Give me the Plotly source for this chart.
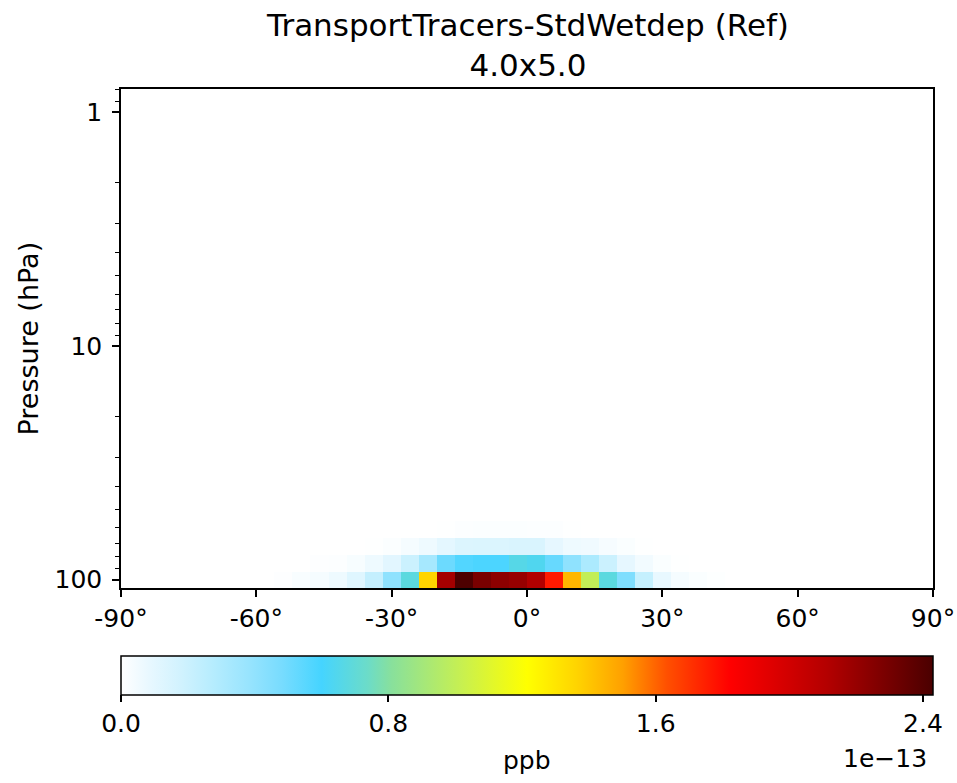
import plotly.graph_objects as go

# ---- data -------------------------------------------------------------
# latitude cell edges of the 4x5 grid (half-size polar cells)
lat_edges = [-90, -88, -84, -80, -76, -72, -68, -64, -60, -56, -52, -48, -44, -40,
             -36, -32, -28, -24, -20, -16, -12, -8, -4, 0, 4, 8, 12, 16, 20, 24,
             28, 32, 36, 40, 44, 48, 52, 56, 60, 64, 68, 72, 76, 80, 84, 88, 90]

# pressure level edges (hPa), GEOS 72-level grid, ~109 hPa up to ~0.8 hPa
pres_edges = [108.663, 92.36572, 78.51231, 66.60341, 56.38791, 47.64391, 40.17541,
              33.81001, 28.36781, 23.73041, 19.79160, 16.45710, 13.64340, 11.27690,
              9.292942, 7.619842, 6.216801, 5.046801, 4.076571, 3.276431, 2.620211,
              2.084970, 1.650790, 1.300510, 1.019440, 0.7951341]

# zonal-mean values (units of 1e-13 ppb), one list per level, 46 latitudes
level_1 = [0, 0, 0, 0, 0, 0, 0, 0, 0, 0.009, 0.026, 0.037, 0.063, 0.122, 0.225, 0.41,
           0.68, 1.36, 2.16, 2.42, 2.29, 2.23, 2.20, 2.12, 1.76, 1.44, 1.00, 0.68,
           0.46, 0.22, 0.085, 0.037, 0.018, 0.006, 0, 0, 0, 0, 0, 0, 0, 0, 0, 0, 0, 0]
level_2 = [0, 0, 0, 0, 0, 0, 0, 0, 0, 0, 0, 0.007, 0.011, 0.030, 0.063, 0.11,
           0.20, 0.33, 0.51, 0.57, 0.585, 0.585, 0.66, 0.64, 0.52, 0.41, 0.31, 0.20,
           0.094, 0.048, 0.018, 0.004, 0, 0, 0, 0, 0, 0, 0, 0, 0, 0, 0, 0, 0, 0]
level_3 = [0, 0, 0, 0, 0, 0, 0, 0, 0, 0, 0, 0, 0, 0, 0.005, 0.015,
           0.037, 0.063, 0.10, 0.134, 0.137, 0.137, 0.145, 0.145, 0.095, 0.063, 0.055, 0.033,
           0.018, 0.005, 0, 0, 0, 0, 0, 0, 0, 0, 0, 0, 0, 0, 0, 0, 0, 0]
level_4 = [0, 0, 0, 0, 0, 0, 0, 0, 0, 0, 0, 0, 0, 0, 0, 0,
           0, 0, 0.004, 0.012, 0.013, 0.013, 0.013, 0.012, 0.010, 0.004, 0, 0,
           0, 0, 0, 0, 0, 0, 0, 0, 0, 0, 0, 0, 0, 0, 0, 0, 0, 0]
upper_levels = [0] * 46  # levels above are zero

vmax = 2.43
cbar_ticks = [0.0, 0.8, 1.6, 2.4]
cbar_ticktext = ["0.0", "0.8", "1.6", "2.4"]
lat_ticks = [-90, -60, -30, 0, 30, 60, 90]
lat_ticktext = ["-90°", "-60°", "-30°", "0°", "30°", "60°", "90°"]
pres_ticks = [1, 10, 100]
pres_minor = [0.8, 0.9, 2, 3, 4, 5, 6, 7, 8, 9, 20, 30, 40, 50, 60, 70, 80, 90]

# ---- figure -----------------------------------------------------------
z = [level_1, level_2, level_3, level_4] + [upper_levels] * (len(pres_edges) - 5)

colorscale = [
    [0.000, "#ffffff"], [0.035, "#e8f8ff"], [0.075, "#d0f2fe"], [0.116, "#b4ecfe"],
    [0.157, "#98e4fe"], [0.198, "#78dcfe"], [0.247, "#45d4ff"], [0.304, "#6cdcc8"],
    [0.333, "#88e09c"], [0.420, "#c8f050"], [0.500, "#ffff00"], [0.561, "#ffd400"],
    [0.618, "#ffa000"], [0.672, "#ff5000"], [0.750, "#ff0000"], [0.869, "#b40000"],
    [1.000, "#4a0000"],
]

FONT = "DejaVu Sans"
TICK = 25
W, H = 957, 783
L, R, T, B = 121, 24, 89, 195
plot_h = H - T - B
plot_w = W - L - R


def py(pix):
    """paper y for a pixel row (from top)"""
    return (H - B - pix) / plot_h


def px(pix):
    """paper x for a pixel column (from left)"""
    return (pix - L) / plot_w


fig = go.Figure()
fig.add_trace(go.Heatmap(
    x=lat_edges, y=pres_edges, z=z,
    zmin=0, zmax=vmax, colorscale=colorscale, zsmooth=False,
    hoverinfo="skip",
    colorbar=dict(
        orientation="h", x=0.5, xanchor="center", len=1.0, lenmode="fraction",
        y=py(655.5), yanchor="top", yref="paper",
        thickness=39, thicknessmode="pixels", xpad=0, ypad=0,
        outlinewidth=1.5, outlinecolor="black",
        ticks="outside", ticklen=7, tickwidth=1.5, tickcolor="black",
        tickvals=cbar_ticks, ticktext=cbar_ticktext,
        tickfont=dict(family=FONT, size=TICK, color="black"),
    ),
))

fig.update_layout(
    width=W, height=H,
    margin=dict(l=L, r=R, t=T, b=B, autoexpand=False),
    paper_bgcolor="white", plot_bgcolor="white",
    font=dict(family=FONT, color="black"),
    showlegend=False,
    xaxis=dict(
        range=[-90, 90], tickvals=lat_ticks, ticktext=lat_ticktext,
        ticks="outside", ticklen=7, tickwidth=1.5, tickcolor="black",
        showline=True, linecolor="black", linewidth=1.5, mirror=True,
        showgrid=False, zeroline=False,
        tickfont=dict(family=FONT, size=TICK, color="black"),
    ),
    yaxis=dict(
        type="log", range=[2.036081, -0.099559],
        tickvals=pres_ticks, ticktext=["1", "10", "100"],
        ticks="outside", ticklen=7, tickwidth=1.5, tickcolor="black",
        ticklabelstandoff=5,
        minor=dict(tickvals=pres_minor, ticks="outside", ticklen=4, tickwidth=1,
                   tickcolor="black", showgrid=False),
        showline=True, linecolor="black", linewidth=1.5, mirror=True,
        showgrid=False, zeroline=False,
        tickfont=dict(family=FONT, size=TICK, color="black"),
    ),
    annotations=[
        dict(text="TransportTracers-StdWetdep (Ref)<br>4.0x5.0", xref="paper", yref="paper",
             x=0.5, y=py(45), xanchor="center", yanchor="middle", align="center",
             showarrow=False, font=dict(family=FONT, size=31, color="black")),
        dict(text="Pressure (hPa)", xref="paper", yref="paper", textangle=-90,
             x=px(28), y=0.5, xanchor="center", yanchor="middle",
             showarrow=False, font=dict(family=FONT, size=27, color="black")),
        dict(text="ppb", xref="paper", yref="paper",
             x=0.5, y=py(760), xanchor="center", yanchor="middle",
             showarrow=False, font=dict(family=FONT, size=TICK, color="black")),
        dict(text="1e\u221213", xref="paper", yref="paper",
             x=px(885), y=py(758), xanchor="center", yanchor="middle",
             showarrow=False, font=dict(family=FONT, size=TICK, color="black")),
    ],
)

fig.write_html("out.html", config={"displayModeBar": False},
               post_script="document.body.style.margin='0';")
